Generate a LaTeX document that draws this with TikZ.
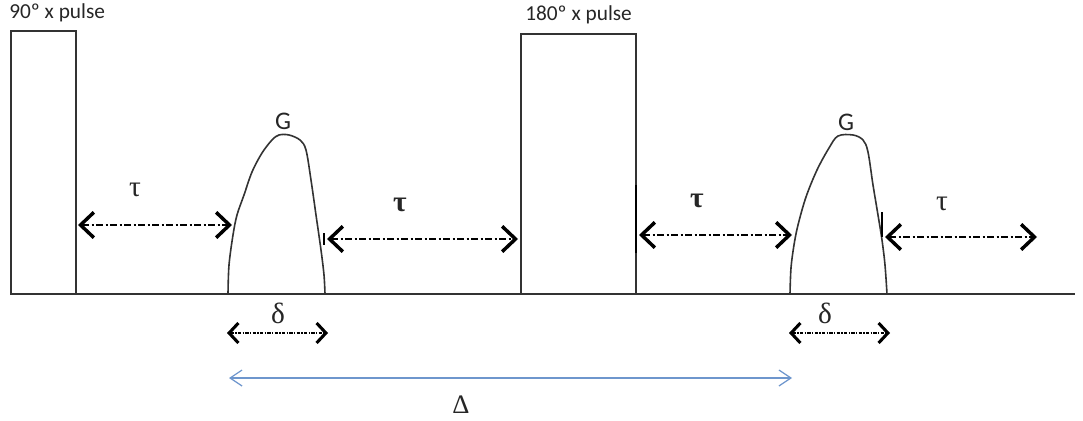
\documentclass[tikz,border=0pt]{standalone}
\usepackage{fontspec}
\setmainfont{Carlito}
\newfontfamily\grk{Liberation Serif}
\usetikzlibrary{arrows.meta}
\definecolor{deltablue}{RGB}{110,150,205}
\begin{document}
\begin{tikzpicture}[x=0.75pt,y=-0.75pt,
  ln/.style={line width=1.4pt, draw=black!80},
  tick/.style={line width=2.2pt, draw=black},
  bigtip/.tip={Straight Barb[length=10pt,width=19pt,line width=2.6pt]},
  smalltip/.tip={Straight Barb[length=7pt,width=15pt,line width=2.3pt]},
  tauarrow/.style={line width=0.8pt, dash pattern=on 5pt off 2pt on 1.5pt off 2pt, bigtip-bigtip},
  deltaarrow/.style={line width=0.8pt, dash pattern=on 2.5pt off 1pt on 1pt off 1pt, smalltip-smalltip},
  bigdelta/.style={line width=1.3pt, draw=deltablue, {Straight Barb[length=9pt,width=12pt,line width=0.9pt]}-{Straight Barb[length=9pt,width=12pt,line width=0.9pt]}},
  txt/.style={inner sep=0pt, text=black!85, font=\fontsize{16}{18}\selectfont},
  glbl/.style={inner sep=0pt, text=black!85, font=\fontsize{19}{21}\selectfont},
  grklbl/.style={inner sep=0pt, text=black!85, font=\grk\fontsize{22}{24}\selectfont}
]
\useasboundingbox (0,0) rectangle (1083,421);
% baseline
\coordinate (bl) at (10,294);
\coordinate (br) at (1075,294);
\draw[ln] (bl) -- (br);
% pulses
\coordinate (p1a) at (11,294); \coordinate (p1b) at (76,31);
\draw[ln] (p1a) rectangle (p1b);
\node[txt, anchor=south west] (p1lbl) at (9,22) {90º x pulse};
\coordinate (p2a) at (521,294); \coordinate (p2b) at (636,34);
\draw[ln] (p2a) rectangle (p2b);
\node[txt, anchor=south west] (p2lbl) at (525,24) {180º x pulse};
% gradient 1
\draw[ln, line width=1.2pt] plot[smooth, tension=0.55] coordinates {(228,294) (229,265) (233,235) (237,215) (244,195) (252,172) (262,153) (272,140) (279,135) (289,135) (300,140) (306,150) (311,180) (316,215) (321,250) (324,275) (325,294)};
\node[glbl] (g1) at (283,121) {G};
% gradient 2
\draw[ln, line width=1.2pt] plot[smooth, tension=0.55] coordinates {(790,294) (791,268) (794,245) (798,225) (806,197) (817,170) (829,148) (838,136) (853,135) (863,140) (868,152) (873,185) (878,215) (882,240) (885,265) (887,294)};
\node[glbl] (g2) at (846,122) {G};
% ticks
\coordinate (t1a) at (636,185); \coordinate (t1b) at (636,253);
\draw[tick] (t1a) -- (t1b);
\coordinate (t2a) at (882,212); \coordinate (t2b) at (882,237);
\draw[tick] (t2a) -- (t2b);
\coordinate (t3a) at (324,233); \coordinate (t3b) at (324,245);
\draw[line width=1pt] (t3a) -- (t3b);
% tau arrows
\coordinate (a1l) at (78,225); \coordinate (a1r) at (232,225);
\draw[tauarrow] (a1l) -- (a1r);
\node[grklbl] (tau1) at (135,190) {τ};
\coordinate (a2l) at (327,239); \coordinate (a2r) at (518,239);
\draw[tauarrow] (a2l) -- (a2r);
\node[grklbl, font=\grk\bfseries\fontsize{22}{24}\selectfont] (tau2) at (400,205) {τ};
\coordinate (a3l) at (639,235); \coordinate (a3r) at (792,235);
\draw[tauarrow] (a3l) -- (a3r);
\node[grklbl, font=\grk\bfseries\fontsize{22}{24}\selectfont] (tau3) at (697,201) {τ};
\coordinate (a4l) at (885,237); \coordinate (a4r) at (1037,237);
\draw[tauarrow] (a4l) -- (a4r);
\node[grklbl] (tau4) at (942,204) {τ};
% delta arrows
\coordinate (d1l) at (227,333); \coordinate (d1r) at (328,333);
\draw[deltaarrow] (d1l) -- (d1r);
\node[grklbl] (del1) at (278,313) {δ};
\coordinate (d2l) at (789,333); \coordinate (d2r) at (890,333);
\draw[deltaarrow] (d2l) -- (d2r);
\node[grklbl] (del2) at (825,313) {δ};
% Delta arrow
\coordinate (Dl) at (229,378); \coordinate (Dr) at (792,378);
\draw[bigdelta] (Dl) -- (Dr);
\node[grklbl, font=\grk\fontsize{20}{22}\selectfont] (Del) at (461,405) {Δ};
\end{tikzpicture}
\end{document}
